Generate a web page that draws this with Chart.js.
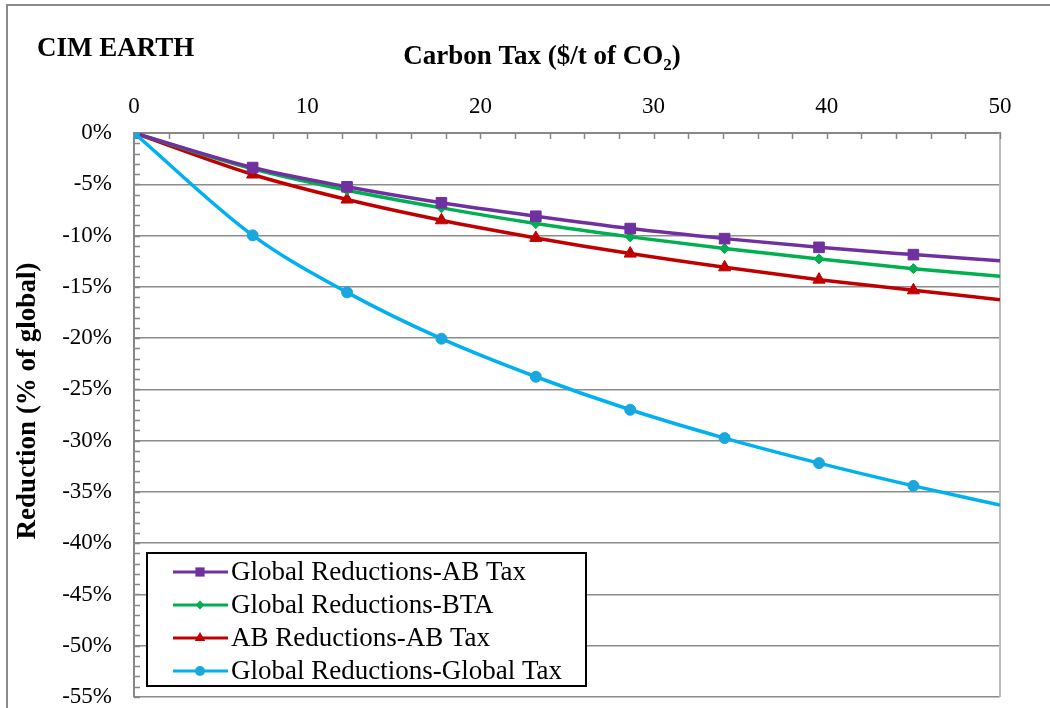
<!DOCTYPE html>
<html>
<head>
  <meta charset="UTF-8">
  <title>CIM EARTH - Carbon Tax reductions</title>
  <script src="https://cdn.jsdelivr.net/npm/chart.js@4.4.1/dist/chart.umd.min.js"></script>
  <style>
    body { margin: 0; background: #fff; }
    canvas { display: block; }
  </style>
</head>
<body>
  <canvas id="myChart" width="1050" height="708"></canvas>
  <script>
    // carbon tax levels ($/t of CO2)
    const taxLevels = [0, 6.85, 12.3, 17.75, 23.2, 28.65, 34.1, 39.55, 45.0, 50];
    // reductions, % of global
    const globalAbTax = [0, -3.37, -5.25, -6.81, -8.12, -9.32, -10.30, -11.15, -11.86, -12.47];
    const globalBta = [0, -3.49, -5.58, -7.30, -8.83, -10.13, -11.27, -12.28, -13.23, -13.98];
    const abAbTax = [0, -4.05, -6.49, -8.51, -10.23, -11.76, -13.10, -14.30, -15.34, -16.25];
    const globalGlobalTax = [0, -9.98, -15.54, -20.06, -23.77, -26.99, -29.75, -32.19, -34.41, -36.29];

    const seriesNames = ['Global Reductions-AB Tax', 'Global Reductions-BTA', 'AB Reductions-AB Tax', 'Global Reductions-Global Tax'];
    const xTicks = [0, 10, 20, 30, 40, 50];
    const yTicks = [0, -5, -10, -15, -20, -25, -30, -35, -40, -45, -50, -55];

    const serif = "'Liberation Serif', 'Times New Roman', serif";

    function series(name, values, color, style, radius, ptColor) {
      return {
        label: name,
        data: taxLevels.map((x, i) => ({ x: x, y: values[i] })),
        borderColor: color,
        backgroundColor: ptColor,
        pointBackgroundColor: ptColor,
        pointBorderColor: ptColor,
        pointStyle: style,
        pointRadius: taxLevels.map((x, i) => i === taxLevels.length - 1 ? 0 : radius),
        pointBorderWidth: 1,
        borderWidth: 3.5,
        cubicInterpolationMode: 'monotone',
        fill: false
      };
    }

    const datasets = [
      series(seriesNames[0], globalAbTax, '#7030A0', 'rect', 7.5, '#7030A0'),
      series(seriesNames[1], globalBta, '#00B050', 'rectRot', 5, '#00B050'),
      series(seriesNames[2], abAbTax, '#C00000', 'triangle', 7, '#C00000'),
      series(seriesNames[3], globalGlobalTax, '#00B0F0', 'circle', 5.5, '#1AA7DD')
    ];
    datasets[3].order = -1;

    function drawMarker(ctx, style, x, y, r, color) {
      ctx.save();
      ctx.fillStyle = color;
      ctx.beginPath();
      if (style === 'rect') {
        const s = r * Math.SQRT1_2;
        ctx.rect(x - s, y - s, 2 * s, 2 * s);
      } else if (style === 'rectRot') {
        ctx.moveTo(x - r, y); ctx.lineTo(x, y - r); ctx.lineTo(x + r, y); ctx.lineTo(x, y + r);
        ctx.closePath();
      } else if (style === 'triangle') {
        ctx.moveTo(x, y - r); ctx.lineTo(x + r * 0.87, y + r * 0.5); ctx.lineTo(x - r * 0.87, y + r * 0.5);
        ctx.closePath();
      } else {
        ctx.arc(x, y, r, 0, Math.PI * 2);
      }
      ctx.fill();
      ctx.restore();
    }

    const decor = {
      id: 'decor',
      beforeDraw(chart) {
        const ctx = chart.ctx;
        ctx.save();
        ctx.fillStyle = '#fff';
        ctx.fillRect(0, 0, chart.width, chart.height);
        // outer frame
        ctx.strokeStyle = '#8a8a8a';
        ctx.lineWidth = 2;
        ctx.strokeRect(7, 5, chart.width + 10, chart.height + 10);
        ctx.restore();
      },
      beforeDatasetsDraw(chart) {
        const ctx = chart.ctx, a = chart.chartArea;
        const xs = chart.scales.x, ys = chart.scales.y;
        ctx.save();
        // right border of plot area
        ctx.strokeStyle = '#bdbdbd';
        ctx.lineWidth = 2;
        ctx.beginPath();
        ctx.moveTo(a.right, a.top); ctx.lineTo(a.right, a.bottom);
        ctx.stroke();
        // minor tick marks pointing inside
        ctx.strokeStyle = '#888';
        ctx.lineWidth = 1.5;
        ctx.beginPath();
        for (let v = 0; v <= 50; v += 2) {
          const px = Math.round(xs.getPixelForValue(v)) + 0.5;
          ctx.moveTo(px, a.top); ctx.lineTo(px, a.top + 6);
        }
        for (let v = 0; v >= -55; v -= 1) {
          const py = Math.round(ys.getPixelForValue(v)) + 0.5;
          ctx.moveTo(a.left, py); ctx.lineTo(a.left + 6, py);
        }
        ctx.stroke();
        ctx.restore();
      },
      afterDraw(chart) {
        const ctx = chart.ctx;
        ctx.save();
        ctx.fillStyle = '#000';
        ctx.textBaseline = 'alphabetic';
        // corner label
        ctx.font = 'bold 27px ' + serif;
        ctx.textAlign = 'left';
        ctx.fillText('CIM EARTH', 37, 56);
        // x axis title with subscript
        const main = 'Carbon Tax ($/t of CO';
        ctx.font = 'bold 27px ' + serif;
        const w1 = ctx.measureText(main).width;
        ctx.font = 'bold 17px ' + serif;
        const w2 = ctx.measureText('2').width;
        ctx.font = 'bold 27px ' + serif;
        const w3 = ctx.measureText(')').width;
        let x0 = 542 - (w1 + w2 + w3) / 2;
        ctx.fillText(main, x0, 64);
        ctx.font = 'bold 17px ' + serif;
        ctx.fillText('2', x0 + w1, 70);
        ctx.font = 'bold 27px ' + serif;
        ctx.fillText(')', x0 + w1 + w2, 64);
        // y axis title
        ctx.translate(28, 401);
        ctx.rotate(-Math.PI / 2);
        ctx.textAlign = 'center';
        ctx.textBaseline = 'middle';
        ctx.fillText('Reduction (% of global)', 0, 0);
        ctx.restore();

        // legend box
        ctx.save();
        const bx = 147, by = 553, bw = 439, bh = 133;
        ctx.fillStyle = '#fff';
        ctx.fillRect(bx, by, bw, bh);
        ctx.strokeStyle = '#000';
        ctx.lineWidth = 2;
        ctx.strokeRect(bx, by, bw, bh);
        ctx.font = '27px ' + serif;
        ctx.textBaseline = 'middle';
        ctx.textAlign = 'left';
        chart.data.datasets.forEach((ds, i) => {
          const ly = 572 + i * 33;
          ctx.strokeStyle = ds.borderColor;
          ctx.lineWidth = 3;
          ctx.beginPath();
          ctx.moveTo(173, ly); ctx.lineTo(228, ly);
          ctx.stroke();
          const r = { rect: 6.5, rectRot: 4.5, triangle: 6, circle: 5 }[ds.pointStyle];
          drawMarker(ctx, ds.pointStyle, 200, ly, r, ds.pointBackgroundColor);
          ctx.fillStyle = '#000';
          ctx.fillText(ds.label, 231, ly + 1);
        });
        ctx.restore();
      }
    };

    new Chart(document.getElementById('myChart'), {
      type: 'line',
      data: { datasets: datasets },
      options: {
        responsive: false,
        animation: false,
        events: [],
        layout: { padding: { top: 0, left: 0, right: 50, bottom: 11 } },
        plugins: { legend: { display: false }, tooltip: { enabled: false }, title: { display: false } },
        scales: {
          x: {
            type: 'linear',
            position: 'top',
            min: 0,
            max: 50,
            afterBuildTicks: s => { s.ticks = xTicks.map(v => ({ value: v })); },
            afterFit: s => { s.height = 133; s.paddingLeft = 0; s.paddingRight = 0; },
            ticks: { color: '#000', font: { family: serif, size: 23 }, padding: 12, maxRotation: 0 },
            grid: { display: false, drawTicks: false },
            border: { display: true, color: '#888', width: 2 }
          },
          y: {
            type: 'linear',
            min: -55,
            max: 0,
            afterBuildTicks: s => { s.ticks = yTicks.map(v => ({ value: v })); },
            afterFit: s => { s.width = 134; s.paddingTop = 0; s.paddingBottom = 0; },
            ticks: { color: '#000', font: { family: serif, size: 23 }, padding: 22, callback: v => v + '%' },
            grid: { color: '#8c8c8c', lineWidth: 1.5, drawTicks: false },
            border: { display: true, color: '#888', width: 2 }
          }
        }
      },
      plugins: [decor]
    });
  </script>
</body>
</html>
